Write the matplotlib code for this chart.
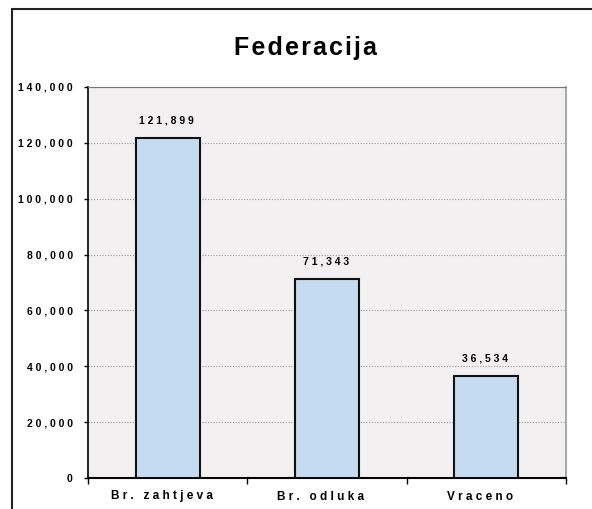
import matplotlib
matplotlib.use("Agg")
import matplotlib.pyplot as plt
from matplotlib.patches import Rectangle
from matplotlib.ticker import FuncFormatter, FixedLocator
from matplotlib.transforms import ScaledTranslation

categories = ["Br. zahtjeva", "Br. odluka", "Vraceno"]
values = [121899, 71343, 36534]
yticks = [0, 20000, 40000, 60000, 80000, 100000, 120000, 140000]

plt.rcParams['font.family'] = ['Liberation Sans', 'DejaVu Sans']


def spaced(s, sep=" "):
    # fake the wide letter spacing of the original
    return sep.join(s)


fig = plt.figure(figsize=(5.92, 5.09), dpi=100)
ax = fig.add_axes([88 / 592, 1 - 478 / 509, 478 / 592, 391 / 509])
ax.set_facecolor('#f2f0f0')

x = range(len(categories))
bars = ax.bar(x, values, width=0.40, color='#c5dbef', edgecolor='#111111',
              linewidth=1.5, zorder=3)
for b, v in zip(bars, values):
    ax.annotate(spaced(f"{v:,}"), (b.get_x() + b.get_width() / 2, v),
                xytext=(-1, 9), textcoords='offset points', ha='center', va='bottom',
                fontsize=7.5, fontweight='bold')

ax.set_xlim(-0.5, 2.5)
ax.set_ylim(0, 140000)
ax.set_yticks(yticks)
ax.yaxis.set_major_formatter(FuncFormatter(lambda v, p: spaced(f"{int(v):,}")))
ax.yaxis.grid(True, linestyle=(0, (1, 1.5)), color='#999999', linewidth=0.8, zorder=1)
ax.set_xticks(list(x))
ax.set_xticklabels([spaced(c) for c in categories], fontsize=8.5, fontweight='bold')
ax.tick_params(axis='x', length=0, pad=9)
shift = ScaledTranslation(-6 / 100, 0, fig.dpi_scale_trans)
for lbl in ax.get_xticklabels():
    lbl.set_transform(lbl.get_transform() + shift)
ax.xaxis.set_minor_locator(FixedLocator([-0.5, 0.5, 1.5, 2.5]))
ax.tick_params(axis='x', which='minor', length=4, width=1, color='black')
ax.tick_params(axis='y', length=3, width=1, pad=8, labelsize=7.5)
for lbl in ax.get_yticklabels():
    lbl.set_fontweight('bold')

ax.spines['left'].set_linewidth(1.2)
ax.spines['bottom'].set_linewidth(1.5)
ax.spines['top'].set_color('#777777')
ax.spines['top'].set_linestyle((0, (1, 0.5)))
ax.spines['right'].set_color('#999999')
ax.spines['right'].set_linewidth(1.2)

fig.text(305 / 592, 1 - 48 / 509, spaced("Federacija", "\u200a"), ha='center', va='center',
         fontsize=18, fontweight='bold')

fig.patches.append(Rectangle((12 / 592, -0.1), 1.2, 1 - 9 / 509 + 0.1,
                             transform=fig.transFigure, fill=False,
                             edgecolor='#222222', linewidth=1.5))

fig.savefig("out.png", dpi=100)
